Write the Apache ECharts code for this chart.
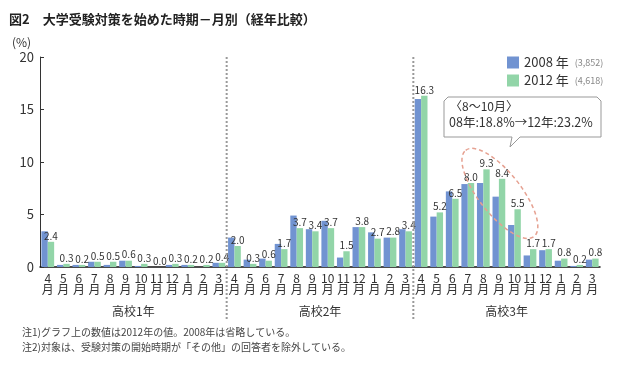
<!DOCTYPE html>
<html><head><meta charset="utf-8">
<script src="https://cdn.jsdelivr.net/npm/echarts@6/dist/echarts.min.js"></script>
<style>html,body{margin:0;padding:0;background:#fff}#c{width:640px;height:372px}</style>
</head><body><div id="c"></div>
<script>
const grades = ['高校1年', '高校2年', '高校3年'];
const months = ['4', '5', '6', '7', '8', '9', '10', '11', '12', '1', '2', '3'];
const yTicks = [0, 5, 10, 15, 20];
const values2008 = [
  3.4, 0.2, 0.2, 0.5, 0.2, 0.6, 0.1, 0.0, 0.2, 0.2, 0.0, 0.4,
  2.8, 0.7, 0.8, 2.2, 4.9, 3.6, 4.4, 0.9, 3.8, 3.3, 2.8, 3.6,
  16.0, 4.8, 7.2, 7.9, 8.0, 6.7, 4.0, 1.1, 1.6, 0.6, 0.1, 0.7
];
const values2012 = [
  2.4, 0.3, 0.2, 0.5, 0.5, 0.6, 0.3, 0.0, 0.3, 0.2, 0.2, 0.4,
  2.0, 0.3, 0.6, 1.7, 3.7, 3.4, 3.7, 1.5, 3.8, 2.7, 2.8, 3.4,
  16.3, 5.2, 6.5, 8.0, 9.3, 8.4, 5.5, 1.7, 1.7, 0.8, 0.2, 0.8
];
const seriesNames = ['2008年', '2012年'];
const sampleSizes = ['(3,852)', '(4,618)'];
const calloutLines = ['〈8～10月〉', '08年:18.8%→12年:23.2%'];
const notes = ['注1)グラフ上の数値は2012年の値。2008年は省略している。', '注2)対象は、受験対策の開始時期が「その他」の回答者を除外している。'];

const categories = [];
grades.forEach(g => months.forEach(m => categories.push(g + '|' + m)));

const FONT = '"Noto Sans CJK JP", "Noto Sans", sans-serif';
const chart = echarts.init(document.getElementById('c'), null, {renderer: 'canvas'});

const option = {
  backgroundColor: '#fff',
  textStyle: {fontFamily: FONT},
  animation: false,
  title: {
    text: '図2　大学受験対策を始めた時期－月別（経年比較）',
    left: 4, top: 8,
    textStyle: {fontSize: 13, fontWeight: 'bold', color: '#222', fontFamily: FONT}
  },
  legend: {
    orient: 'vertical', left: 502, top: 51,
    itemWidth: 12, itemHeight: 12, itemGap: 5,
    icon: 'rect',
    data: seriesNames,
    formatter: name => '{a|' + name.replace('年', ' 年') + '}{b|' + sampleSizes[seriesNames.indexOf(name)] + '}',
    textStyle: {
      fontFamily: FONT,
      rich: {
        a: {fontSize: 13, color: '#333', fontFamily: FONT, padding: [0, 6, 0, 0]},
        b: {fontSize: 9, color: '#888', fontFamily: FONT}
      }
    }
  },
  grid: {left: 40, right: 40, top: 57, bottom: 105, containLabel: false},
  xAxis: [{
    type: 'category',
    data: categories,
    axisLine: {lineStyle: {color: '#111', width: 1.5}},
    axisTick: {show: false},
    axisLabel: {
      interval: 0, fontSize: 12, lineHeight: 11, color: '#333', margin: 6,
      fontFamily: FONT,
      formatter: v => v.split('|')[1] + '\n月'
    }
  }, {
    type: 'category',
    data: grades,
    position: 'bottom',
    offset: 30,
    axisLine: {show: false},
    axisTick: {show: false},
    axisLabel: {interval: 0, fontSize: 12, color: '#333', fontFamily: FONT}
  }],
  yAxis: {
    type: 'value', min: yTicks[0], max: yTicks[yTicks.length - 1], interval: 5,
    axisLine: {show: true, lineStyle: {color: '#333', width: 1}},
    axisTick: {show: true, inside: true, length: 4, lineStyle: {color: '#333'}},
    splitLine: {show: false},
    axisLabel: {fontSize: 13, color: '#333', margin: 6, fontFamily: FONT}
  },
  series: [{
    name: seriesNames[0], type: 'bar', data: values2008,
    barGap: '0%', barCategoryGap: '18%',
    itemStyle: {color: '#7193d1'}
  }, {
    name: seriesNames[1], type: 'bar', data: values2012,
    barGap: '0%', barCategoryGap: '18%',
    itemStyle: {color: '#92d5a8'},
    label: {
      show: true, position: 'top', distance: 1, fontSize: 10, color: '#333',
      fontFamily: FONT, formatter: p => p.value.toFixed(1)
    }
  }]
};
chart.setOption(option);

// Decorations positioned from the axes
const px = (i, v) => chart.convertToPixel({xAxisIndex: 0, yAxisIndex: 0}, [categories[i], v]);
const p0 = px(0, 0), p1 = px(1, 0);
const band = p1[0] - p0[0];
const plotTop = px(0, 20)[1];
const graphics = [];
[12, 24].forEach(i => {
  const x = px(i, 0)[0] - band / 2;
  graphics.push({
    type: 'line', shape: {x1: x, y1: plotTop, x2: x, y2: plotTop + 264},
    style: {stroke: '#9a9a9a', lineWidth: 2, lineDash: [2, 2]}, z: 10
  });
});
graphics.push({
  type: 'text', x: 12, y: 36,
  style: {text: '(%)', font: '12px ' + FONT, fill: '#333'}
});
// ellipse around 8-10月 of 高校3年
const ec = px(29, 7.2);
graphics.push({
  type: 'ellipse', x: ec[0] + 1, y: ec[1] + 2, rotation: -0.9,
  shape: {cx: 0, cy: 0, rx: 55, ry: 21},
  style: {fill: 'none', stroke: '#e6a191', lineWidth: 1.5, lineDash: [4, 3]}, z: 10
});
// callout
const bx = 444, by = 97, bw = 157, bh = 40;
const tailX = 512;
graphics.push({
  type: 'polygon',
  shape: {points: [[bx + 4, by], [bx + bw - 4, by], [bx + bw, by + 4], [bx + bw, by + bh], [tailX + 8, by + bh], [tailX - 2, by + bh + 10], [tailX, by + bh], [bx, by + bh], [bx, by + 4]]},
  style: {fill: '#fff', stroke: '#999', lineWidth: 1}, z: 11
});
graphics.push({
  type: 'text', x: bx + 6, y: by + 3, z: 12,
  style: {text: calloutLines[0], font: '12px ' + FONT, fill: '#333'}
});
graphics.push({
  type: 'text', x: bx + 5, y: by + 19, z: 12,
  style: {text: calloutLines[1], font: '12.5px ' + FONT, fill: '#333'}
});
notes.forEach((n, i) => graphics.push({
  type: 'text', x: 22, y: 327 + i * 15,
  style: {text: n, font: '10px ' + FONT, fill: '#444'}
}));
chart.setOption({graphic: graphics});
</script></body></html>
